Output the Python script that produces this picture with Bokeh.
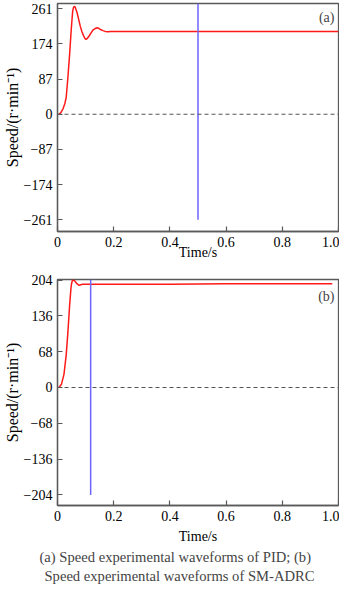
from bokeh.plotting import figure
from bokeh.layouts import column
from bokeh.models import FixedTicker, Span, Label, Title
from bokeh.embed import file_html
from bokeh.resources import INLINE

# ---------------- data ----------------
time_ticks = [0, 0.2, 0.4, 0.6, 0.8, 1.0]
time_tick_labels = ["0", "0.2", "0.4", "0.6", "0.8", "1.0"]
time_range = (0, 1.0)

# (a) PID
pid_ticks = [-261, -174, -87, 0, 87, 174, 261]
pid_tick_labels = ["\u2212261", "\u2212174", "\u221287", "0", "87", "174", "261"]
pid_range = (-290, 274)
pid_time = [0.005, 0.012, 0.02, 0.026, 0.031, 0.037, 0.043, 0.049, 0.054, 0.057,
            0.060, 0.063, 0.069, 0.075, 0.081, 0.087, 0.093, 0.097, 0.101, 0.105,
            0.112, 0.120, 0.127, 0.134, 0.141, 0.148, 0.155, 0.162, 0.170, 0.180,
            0.190, 0.205, 0.3, 0.4, 0.5, 0.6, 0.7, 0.8, 0.9, 1.0]
pid_speed = [0, 4, 14, 26, 42, 91, 147, 211, 255, 264,
             267, 265, 253, 236, 218, 204, 194, 188, 185, 187,
             193, 202, 209, 212, 214, 212, 209, 207, 205, 204,
             205, 205, 205, 205, 205, 205, 205, 205, 205, 205]
pid_marker_time = [0.5]
pid_marker_low = [-261]

# (b) SM-ADRC
adrc_ticks = [-204, -136, -68, 0, 68, 136, 204]
adrc_tick_labels = ["\u2212204", "\u2212136", "\u221268", "0", "68", "136", "204"]
adrc_range = (-224, 205)
adrc_time = [0.005, 0.014, 0.023, 0.031, 0.037, 0.043, 0.048, 0.050, 0.053, 0.057,
             0.062, 0.069, 0.077, 0.083, 0.089, 0.1, 0.2, 0.4, 0.6, 0.8, 0.978]
adrc_speed = [0, 6, 25, 62, 105, 155, 189, 197, 203, 204,
              202, 197, 194, 195, 196, 196, 196, 196, 197, 197, 197]
adrc_marker_time = [0.118]
adrc_marker_low = [-204]

FONT = "Liberation Serif"
FRAME = "#5a5a5a"


def make_fig(height, top, bottom, yr, yticks, ylabels):
    p = figure(width=339, height=height, x_range=time_range, y_range=yr,
               output_backend="svg", toolbar_location=None,
               min_border_left=52, min_border_right=1,
               min_border_top=top, min_border_bottom=bottom)
    p.grid.visible = False
    p.outline_line_color = FRAME
    p.outline_line_width = 1.3
    p.background_fill_color = "white"
    for ax in (p.xaxis[0], p.yaxis[0]):
        ax.axis_line_color = FRAME
        ax.axis_line_width = 1.3
        ax.major_tick_line_color = FRAME
        ax.major_tick_line_width = 1.2
        ax.major_tick_in = 5
        ax.major_tick_out = 0
        ax.minor_tick_line_color = None
        ax.major_label_text_font = FONT
        ax.major_label_text_font_size = "14px"
        ax.major_label_text_color = "black"
        ax.axis_label_text_font = FONT
        ax.axis_label_text_font_size = "14px"
        ax.axis_label_text_font_style = "normal"
        ax.axis_label_text_color = "black"
    p.xaxis.ticker = FixedTicker(ticks=time_ticks)
    p.xaxis.major_label_overrides = dict(zip(time_ticks, time_tick_labels))
    p.xaxis.major_label_standoff = 5
    p.xaxis.axis_label = "Time/s"
    p.yaxis.ticker = FixedTicker(ticks=yticks)
    p.yaxis.major_label_overrides = dict(zip(yticks, ylabels))
    p.yaxis.major_label_standoff = 5
    p.yaxis.axis_label = "Speed/(r\u00b7min\u207b\u00b9)"
    p.yaxis.axis_label_text_font_size = "16px"
    p.yaxis.axis_label_standoff = 0
    p.add_layout(Span(location=0, dimension="width", line_color="#555555",
                      line_width=1.2, line_dash="4 3"))
    return p


p1 = make_fig(272, 3, 41, pid_range, pid_ticks, pid_tick_labels)
p1.xaxis.axis_label_standoff = -5
p1.line(pid_time, pid_speed, line_color="#ff1a1a", line_width=1.5)
p1.segment(x0=pid_marker_time, y0=pid_marker_low, x1=pid_marker_time,
           y1=[pid_range[1]] * len(pid_marker_time), line_color="#6e64ff", line_width=1.5)
p1.add_layout(Label(x=time_range[1], y=pid_range[1], x_offset=-4, y_offset=-6,
                    text="(a)", text_align="right", text_baseline="top",
                    text_font=FONT, text_font_size="14px"))

p2 = make_fig(313, 7, 75, adrc_range, adrc_ticks, adrc_tick_labels)
p2.xaxis.axis_label_standoff = 5
p2.line(adrc_time, adrc_speed, line_color="#ff1a1a", line_width=1.5)
p2.segment(x0=adrc_marker_time, y0=adrc_marker_low, x1=adrc_marker_time,
           y1=[adrc_range[1]] * len(adrc_marker_time), line_color="#6e64ff", line_width=1.5)
p2.add_layout(Label(x=time_range[1], y=adrc_range[1], x_offset=-4, y_offset=-9,
                    text="(b)", text_align="right", text_baseline="top",
                    text_font=FONT, text_font_size="14px"))

cap1 = Title(text="(a) Speed experimental waveforms of PID; (b)", align="left",
             offset=-18, text_font=FONT, text_font_size="14.6px",
             text_font_style="normal", standoff=0)
cap2 = Title(text="Speed experimental waveforms of SM-ADRC", align="left",
             offset=-13, text_font=FONT, text_font_size="14.6px",
             text_font_style="normal", standoff=3)
p2.add_layout(cap1, "below")
p2.add_layout(cap2, "below")

layout = column(p1, p2)
open("out.html", "w").write(file_html(layout, INLINE))
